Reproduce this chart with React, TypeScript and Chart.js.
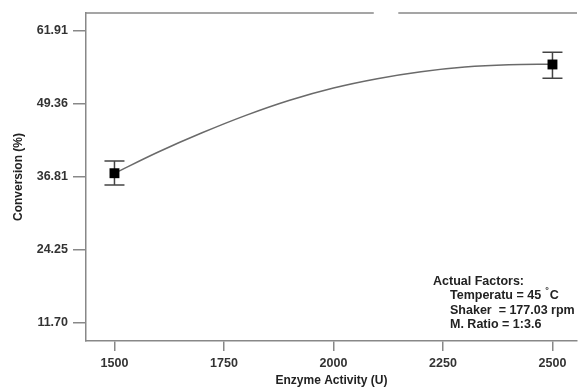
import React, { useEffect, useRef } from "react";
import { Chart, registerables } from "chart.js";
Chart.register(...registerables);

const xTicks = [1500, 1750, 2000, 2250, 2500];
const yTicks = [11.7, 24.25, 36.81, 49.36, 61.91];
const curveX = [1500, 1600, 1700, 1800, 1900, 2000, 2100, 2200, 2300, 2400, 2500];
const curveY = [37.45, 41.1, 44.4, 47.4, 50.0, 52.1, 53.7, 54.9, 55.7, 56.1, 56.2];
const designX = [1500, 2500];
const designY = [37.45, 56.15];
const errLow = [35.43, 53.78];
const errHigh = [39.55, 58.25];
const topGap = [2092, 2148];
const factorTitle = "Actual Factors:";
const factorLines = ["Temperatu = 45", "Shaker  = 177.03 rpm", "M. Ratio = 1:3.6"];

const FAMILY = "'Liberation Sans', Arial, sans-serif";

export default function App() {
  const ref = useRef<HTMLCanvasElement>(null);
  useEffect(() => {
    if (!ref.current) return;
    const font = { family: FAMILY, size: 12, weight: "bold" as const };
    const tickFont = { family: FAMILY, size: 12.5, weight: "bold" as const };
    const extras = {
      id: "extras",
      beforeDatasetsDraw(chart: any) {
        const { ctx, scales } = chart;
        const xs = scales.x, ys = scales.y;
        ctx.save();
        ctx.strokeStyle = "#444";
        ctx.lineWidth = 1.5;
        designX.forEach((xv, i) => {
          const px = xs.getPixelForValue(xv);
          const pl = ys.getPixelForValue(errLow[i]);
          const ph = ys.getPixelForValue(errHigh[i]);
          ctx.beginPath();
          ctx.moveTo(px, pl); ctx.lineTo(px, ph);
          ctx.moveTo(px - 10, pl); ctx.lineTo(px + 10, pl);
          ctx.moveTo(px - 10, ph); ctx.lineTo(px + 10, ph);
          ctx.stroke();
        });
        ctx.restore();
      },
      afterDraw(chart: any) {
        const { ctx, chartArea, scales } = chart;
        const xs = scales.x;
        ctx.save();
        ctx.strokeStyle = "#888";
        ctx.lineWidth = 1.5;
        const g0 = xs.getPixelForValue(topGap[0]);
        const g1 = xs.getPixelForValue(topGap[1]);
        ctx.beginPath();
        ctx.moveTo(chartArea.left, chartArea.top); ctx.lineTo(g0, chartArea.top);
        ctx.moveTo(g1, chartArea.top); ctx.lineTo(chartArea.right, chartArea.top);
        ctx.stroke();

        ctx.fillStyle = "#222";
        ctx.textBaseline = "middle";
        ctx.textAlign = "left";
        ctx.font = `bold 12.5px ${FAMILY}`;
        ctx.fillText(factorTitle, 433, 282);
        const ys = [296, 311, 325];
        factorLines.forEach((t, i) => ctx.fillText(t, 450, ys[i]));
        let x = 450 + ctx.measureText(factorLines[0]).width + 4;
        ctx.font = `bold 9px ${FAMILY}`;
        ctx.fillText("°", x, 291);
        x += ctx.measureText("°").width + 1;
        ctx.font = `bold 12.5px ${FAMILY}`;
        ctx.fillText("C", x, 296);
        ctx.restore();
      },
    };
    const chart = new Chart(ref.current, {
      type: "line",
      data: {
        datasets: [
          {
            data: curveX.map((x, i) => ({ x, y: curveY[i] })),
            borderColor: "#6a6a6a",
            borderWidth: 1.5,
            pointRadius: 0,
            cubicInterpolationMode: "monotone",
            fill: false,
            order: 2,
          },
          {
            type: "scatter",
            data: designX.map((x, i) => ({ x, y: designY[i] })),
            pointStyle: "rect",
            pointRadius: 7,
            backgroundColor: "#000",
            borderColor: "#000",
            borderWidth: 0,
            showLine: false,
            order: 1,
          } as any,
        ],
      },
      options: {
        animation: false,
        responsive: true,
        maintainAspectRatio: false,
        layout: { padding: { top: 13, left: 0, right: 0, bottom: 0 } },
        plugins: { legend: { display: false }, tooltip: { enabled: false } },
        scales: {
          x: {
            type: "linear",
            min: 1435,
            max: 2556,
            afterBuildTicks: (s: any) => { s.ticks = xTicks.map((v) => ({ value: v })); },
            afterFit: (s: any) => { s.height = 47; },
            grid: { drawOnChartArea: false, tickLength: 10, color: "#888", lineWidth: 1.5 },
            border: { color: "#888", width: 1.5 },
            ticks: { font: tickFont, color: "#333", padding: 5, maxRotation: 0, autoSkip: false, callback: (v: any) => String(v) },
            title: { display: true, text: "Enzyme Activity (U)", font, color: "#222", padding: { top: 0, bottom: 0 } },
          },
          y: {
            min: 8.6,
            max: 65.0,
            afterBuildTicks: (s: any) => { s.ticks = yTicks.map((v) => ({ value: v })); },
            afterFit: (s: any) => { s.width = 86; },
            grid: { drawOnChartArea: false, tickLength: 13, color: "#888", lineWidth: 1.5 },
            border: { color: "#888", width: 1.5 },
            ticks: { font: tickFont, color: "#333", padding: 5, autoSkip: false, callback: (v: any) => Number(v).toFixed(2) },
            title: { display: true, text: "Conversion (%)", font, color: "#222", padding: { top: 11, bottom: 0 } },
          },
        },
      },
      plugins: [extras],
    } as any);
    return () => chart.destroy();
  }, []);
  return (
    <div style={{ position: "fixed", left: 0, top: 0, width: 584, height: 388, background: "#fff" }}>
      <canvas ref={ref} />
    </div>
  );
}
